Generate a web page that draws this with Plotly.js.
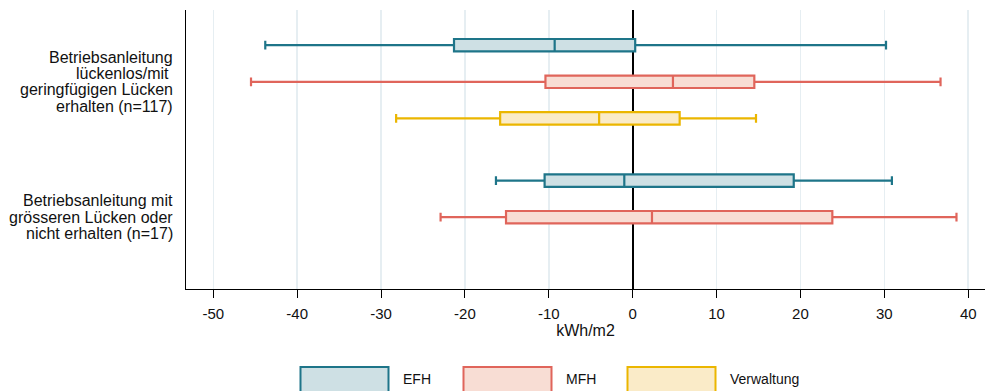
<!DOCTYPE html>
<html>
<head>
<meta charset="utf-8">
<script src="https://cdn.plot.ly/plotly-3.0.1.min.js"></script>
<style>html,body{margin:0;padding:0;background:#fff}#chart{width:987px;height:391px}</style>
</head>
<body>
<div id="chart"></div>
<script>
// Categories (y axis) - lines of each label
var categories = [
  "Betriebsanleitung|lückenlos/mit\u00a0|geringfügigen Lücken|erhalten (n=117)",
  "Betriebsanleitung mit|grösseren Lücken oder|nicht erhalten (n=17)"
];
var seriesNames = ["EFH", "MFH", "Verwaltung"];

// Box statistics (kWh/m2) per series: [category 1, category 2]
var efhLower  = [-43.8, -16.3];
var efhQ1     = [-21.3, -10.5];
var efhMedian = [-9.3, -1.0];
var efhQ3     = [0.3, 19.2];
var efhUpper  = [30.2, 30.9];

var mfhLower  = [-45.5, -22.9];
var mfhQ1     = [-10.4, -15.1];
var mfhMedian = [4.8, 2.3];
var mfhQ3     = [14.5, 23.8];
var mfhUpper  = [36.7, 38.6];

var verLower  = [-28.2];
var verQ1     = [-15.8];
var verMedian = [-4.0];
var verQ3     = [5.6];
var verUpper  = [14.7];

var xTicks = [-50, -40, -30, -20, -10, 0, 10, 20, 30, 40];

var lineColors = ["#1e7589", "#e0655b", "#ebb600"];
var fillColors = ["#cee0e4", "#f8ddd4", "#faebc8"];

function boxTrace(name, cats, lo, q1, med, q3, hi, i) {
  return {
    type: "box", orientation: "h", name: name,
    y: cats, q1: q1, median: med, q3: q3, lowerfence: lo, upperfence: hi,
    boxpoints: false, whiskerwidth: 0.7,
    line: {color: lineColors[i], width: 2.2},
    fillcolor: fillColors[i],
    showlegend: false, hoverinfo: "skip"
  };
}

var data = [
  boxTrace(seriesNames[0], categories, efhLower, efhQ1, efhMedian, efhQ3, efhUpper, 0),
  boxTrace(seriesNames[1], categories, mfhLower, mfhQ1, mfhMedian, mfhQ3, mfhUpper, 1),
  boxTrace(seriesNames[2], [categories[0]], verLower, verQ1, verMedian, verQ3, verUpper, 2)
];

// pixel -> paper helpers for the custom legend
var L = 186, T = 10, W = 987, H = 391, R = 2, B = 102;
var pw = W - L - R, ph = H - T - B;
function px(x) { return (x - L) / pw; }
function py(y) { return (H - B - y) / ph; }

var legendX = [300.5, 463.5, 627.5];
var shapes = [], annotations = [];
for (var i = 0; i < seriesNames.length; i++) {
  shapes.push({
    type: "rect", xref: "paper", yref: "paper",
    x0: px(legendX[i]), x1: px(legendX[i] + 88), y0: py(367), y1: py(400),
    line: {color: lineColors[i], width: 2}, fillcolor: fillColors[i]
  });
  annotations.push({
    xref: "paper", yref: "paper", x: px(legendX[i] + 100), y: py(379),
    xanchor: "left", yanchor: "middle", showarrow: false,
    text: seriesNames[i], font: {size: 14, color: "#111"}
  });
}

// category labels, tight line spacing, right aligned against the axis
var lineH = 16.3;
categories.forEach(function (c) {
  var lines = c.split("|");
  var mid = (lines.length - 1) / 2;
  lines.forEach(function (t, k) {
    annotations.push({
      xref: "paper", yref: "y", x: 0, y: c, xanchor: "right", yanchor: "middle",
      xshift: -11, yshift: (mid - k) * lineH, showarrow: false,
      text: t, font: {size: 16, color: "#111"}
    });
  });
});

var layout = {
  width: W, height: H,
  margin: {l: L, r: R, t: T, b: B, pad: 0},
  paper_bgcolor: "#fff", plot_bgcolor: "#fff",
  font: {family: "Arial, 'Liberation Sans', sans-serif", size: 15, color: "#111"},
  boxmode: "group", boxgap: 0.19, boxgroupgap: 0.66,
  xaxis: {
    range: [-53.25, 42.0], tickvals: xTicks, ticktext: xTicks.map(String),
    showgrid: true, gridcolor: "#e6eef2", gridwidth: 1.5,
    zeroline: true, zerolinecolor: "#000", zerolinewidth: 2,
    showline: true, linecolor: "#000", linewidth: 1,
    ticks: "outside", ticklen: 8, tickcolor: "#000", tickwidth: 1,
    tickfont: {size: 15}, ticklabelstandoff: 3,
    title: {text: "kWh/m2", standoff: 1, font: {size: 16}},
    fixedrange: true
  },
  yaxis: {
    type: "category", categoryorder: "array", categoryarray: categories,
    range: [1.53, -0.53],
    showgrid: false, zeroline: false, showticklabels: false,
    showline: true, linecolor: "#000", linewidth: 1,
    ticks: "",
    fixedrange: true
  },
  shapes: shapes, annotations: annotations,
  showlegend: false
};

Plotly.newPlot("chart", data, layout, {staticPlot: true, displayModeBar: false});
</script>
</body>
</html>
